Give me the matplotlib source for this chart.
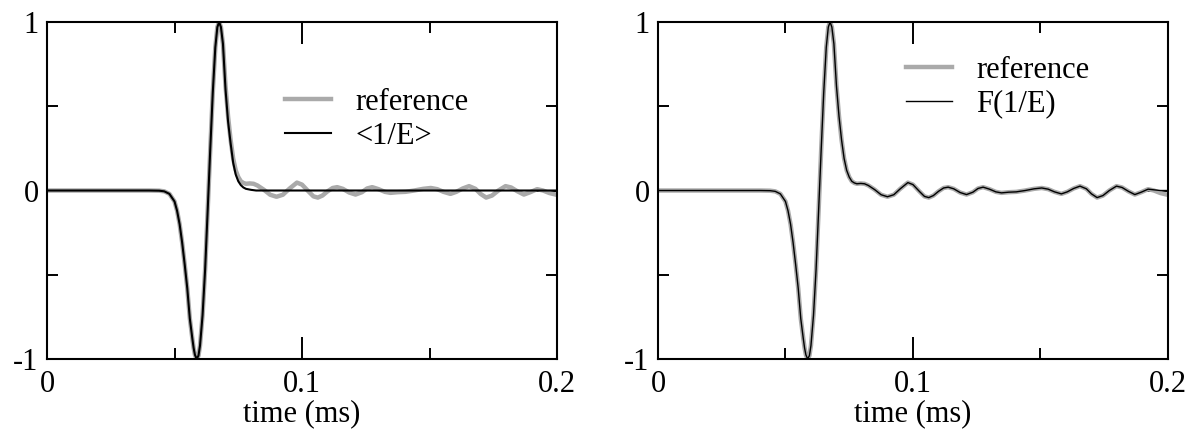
"""
Pulse comparison: reference waveform against <1/E> and F(1/E) reconstructions.

Output:
    out.png
"""

import matplotlib.pyplot as plt
from matplotlib.ticker import MultipleLocator

plt.rcParams["font.family"] = ["Liberation Serif", "DejaVu Serif"]
plt.rcParams["font.size"] = 22

# main pulse (shared up to the falling edge), time in ms
t_pulse = [0.000, 0.040, 0.044, 0.046, 0.048, 0.050, 0.051, 0.052, 0.053,
           0.054, 0.055, 0.056, 0.057, 0.0575, 0.058, 0.0587, 0.0594, 0.060,
           0.061, 0.062, 0.063, 0.064, 0.065, 0.066, 0.0668, 0.0675, 0.0682,
           0.069]
v_pulse = [0.0, 0.0, -0.001, -0.005, -0.02, -0.065, -0.12, -0.2, -0.31,
           -0.44, -0.58, -0.76, -0.88, -0.935, -0.975, -1.0, -0.98, -0.92,
           -0.74, -0.47, -0.12, 0.24, 0.58, 0.85, 0.97, 1.0, 0.97,
           0.87]

# <1/E>: falling edge then flat
t_inv_e = [0.070, 0.071, 0.072, 0.073, 0.074, 0.075, 0.076, 0.077, 0.078,
           0.080, 0.082, 0.200]
v_inv_e = [0.60, 0.41, 0.28, 0.165, 0.095, 0.055, 0.032, 0.018, 0.01,
           0.004, 0.0, 0.0]

# reference: falling edge then ringing tail
t_ref_tail = [0.070, 0.071, 0.072, 0.073, 0.074, 0.075, 0.076, 0.077, 0.078,
              0.0795, 0.081, 0.0825, 0.0850, 0.0875, 0.0900, 0.0925, 0.0950,
              0.0980, 0.1000, 0.1025, 0.1045, 0.1062, 0.1080, 0.1100, 0.1120,
              0.1138, 0.1160, 0.1185, 0.1210, 0.1235, 0.1255, 0.1275, 0.1300,
              0.1325, 0.1347, 0.1375, 0.1405, 0.1440, 0.1475, 0.1505, 0.1530,
              0.1555, 0.1582, 0.1605, 0.1630, 0.1655, 0.1680, 0.1700, 0.1722,
              0.1745, 0.1770, 0.1798, 0.1820, 0.1845, 0.1870, 0.1895, 0.1922,
              0.1945, 0.1970, 0.2000]
v_ref_tail = [0.62, 0.44, 0.30, 0.19, 0.12, 0.08, 0.055, 0.045, 0.04,
              0.042, 0.04, 0.030, 0.005, -0.025, -0.037, -0.025, 0.010,
              0.047, 0.035, -0.005, -0.035, -0.042, -0.030, -0.005, 0.015,
              0.020, 0.010, -0.012, -0.024, -0.010, 0.012, 0.020, 0.008,
              -0.008, -0.014, -0.010, -0.008, 0.000, 0.010, 0.015, 0.008,
              -0.008, -0.020, -0.008, 0.012, 0.026, 0.010, -0.020, -0.042,
              -0.030, 0.000, 0.026, 0.018, -0.005, -0.024, -0.010, 0.008,
              0.000, -0.015, -0.026]

# F(1/E): follows the reference, flattens at the very end
v_f_end = [0.004, 0.0, 0.0]

t_ref = t_pulse + t_ref_tail
v_ref = v_pulse + v_ref_tail
t_inv = t_pulse + t_inv_e
v_inv = v_pulse + v_inv_e
t_f = t_ref
v_f = v_pulse + v_ref_tail[:-3] + v_f_end

GRAY = "#aaaaaa"

fig = plt.figure(figsize=(11.9, 4.32), dpi=100)
ax1 = fig.add_axes([0.0395, 0.169, 0.4286, 0.780])
ax2 = fig.add_axes([0.5529, 0.169, 0.4286, 0.780])

ax1.plot(t_ref, v_ref, color=GRAY, lw=3.2, label="reference",
         solid_joinstyle="round")
ax1.plot(t_inv, v_inv, color="black", lw=1.5, label="<1/E>")
ax2.plot(t_ref, v_ref, color=GRAY, lw=3.2, label="reference",
         solid_joinstyle="round")
ax2.plot(t_f, v_f, color="black", lw=1.0, label="F(1/E)")

for ax in (ax1, ax2):
    ax.set_xlim(0, 0.2)
    ax.set_ylim(-1, 1)
    ax.set_xticks([0, 0.1, 0.2])
    ax.set_xticklabels(["0", "0.1", "0.2"])
    ax.xaxis.set_minor_locator(MultipleLocator(0.05))
    ax.set_yticks([-1, 0, 1])
    ax.set_yticklabels(["-1", "0", "1"])
    ax.yaxis.set_minor_locator(MultipleLocator(0.5))
    ax.tick_params(which="both", direction="in", top=True, right=True,
                   width=1.4)
    ax.tick_params(which="major", length=15.5)
    ax.tick_params(which="minor", length=8)
    ax.tick_params(axis="x", pad=8)
    ax.tick_params(axis="y", pad=6)
    for s in ax.spines.values():
        s.set_linewidth(1.5)
    ax.set_xlabel("time (ms)", labelpad=0)

ax1.legend(loc="center left", bbox_to_anchor=(0.467, 0.711), frameon=False,
           borderpad=0, borderaxespad=0, handlelength=1.5,
           handletextpad=0.8, labelspacing=0.15)
ax2.legend(loc="center left", bbox_to_anchor=(0.486, 0.806), frameon=False,
           borderpad=0, borderaxespad=0, handlelength=1.5,
           handletextpad=0.8, labelspacing=0.15)

fig.savefig("out.png", dpi=100)
